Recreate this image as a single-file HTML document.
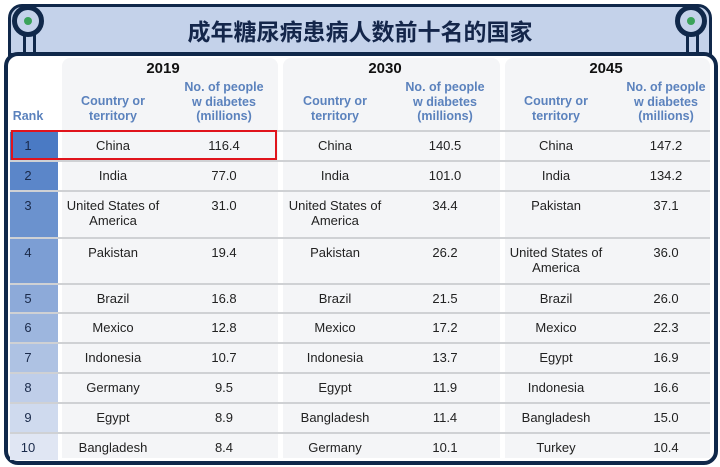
<!DOCTYPE html>
<html><head><meta charset="utf-8"><style>
body{margin:0;width:720px;height:467px;background:#fff;position:relative;overflow:hidden;font-family:"Liberation Sans",sans-serif}
.a{position:absolute}
.t{position:absolute;text-align:center;font-size:13px;color:#222;line-height:15px}
.h{position:absolute;text-align:center;font-size:12.5px;color:#5b82bd;font-weight:bold;line-height:14.5px}
.y{position:absolute;text-align:center;font-size:15px;font-weight:bold;color:#111}
</style></head><body>
<div class="a" style="left:8px;top:4px;width:698px;height:46px;background:#c4d2ea;border:3px solid #10284a;border-radius:14px 14px 0 0"></div>
<div class="a" style="left:0;top:13px;width:720px;text-align:center;font-size:23px;font-weight:bold;color:#14264a;font-family:'Liberation Sans','Noto Sans CJK SC',sans-serif">成年糖尿病患病人数前十名的国家</div>
<div class="a" style="left:23px;top:30px;width:7px;height:24px;background:#c4d2ea;border:0 solid #10284a;border-left-width:3px;border-right-width:3px"></div>
<div class="a" style="left:686px;top:30px;width:7px;height:24px;background:#c4d2ea;border:0 solid #10284a;border-left-width:3px;border-right-width:3px"></div>
<div class="a" style="left:12px;top:5px;width:22px;height:22px;border:5px solid #10284a;border-radius:50%;background:#c4d2ea"><div class="a" style="left:7px;top:7px;width:8px;height:8px;border-radius:50%;background:#3aa35a"></div></div>
<div class="a" style="left:675px;top:5px;width:22px;height:22px;border:5px solid #10284a;border-radius:50%;background:#c4d2ea"><div class="a" style="left:7px;top:7px;width:8px;height:8px;border-radius:50%;background:#3aa35a"></div></div>
<div class="a" style="left:4px;top:52px;width:706px;height:405px;background:#fff;border:4px solid #10284a;border-radius:14px"></div>
<div class="a" style="left:62px;top:58px;width:216px;height:400px;background:#f4f5f7;border-radius:8px 8px 0 0"></div>
<div class="a" style="left:283px;top:58px;width:217px;height:400px;background:#f4f5f7;border-radius:8px 8px 0 0"></div>
<div class="a" style="left:505px;top:58px;width:205px;height:400px;background:#f4f5f7;border-radius:8px 8px 0 0"></div>
<div id="tb"></div>
<script>
const years=["2019","2030","2045"];
const c2019=["China","India","United States of<br>America","Pakistan","Brazil","Mexico","Indonesia","Germany","Egypt","Bangladesh"];
const v2019=["116.4","77.0","31.0","19.4","16.8","12.8","10.7","9.5","8.9","8.4"];
const c2030=["China","India","United States of<br>America","Pakistan","Brazil","Mexico","Indonesia","Egypt","Bangladesh","Germany"];
const v2030=["140.5","101.0","34.4","26.2","21.5","17.2","13.7","11.9","11.4","10.1"];
const c2045=["China","India","Pakistan","United States of<br>America","Brazil","Mexico","Egypt","Indonesia","Bangladesh","Turkey"];
const v2045=["147.2","134.2","37.1","36.0","26.0","22.3","16.9","16.6","15.0","10.4"];
const tb=document.getElementById('tb');
const rowTop=[130,160,190,237,283,312,342,372,402,432,460];
const groups=[{c:c2019,v:v2019,cx:113,vx:224},{c:c2030,v:v2030,cx:335,vx:445},{c:c2045,v:v2045,cx:556,vx:666}];
let h='';
h+=`<div class="h" style="left:8px;top:109px;width:40px">Rank</div>`;
groups.forEach((g,i)=>{
 h+=`<div class="y" style="left:${g.cx-10}px;top:60px;width:120px">${years[i]}</div>`;
 h+=`<div class="h" style="left:${g.cx-60}px;top:94px;width:120px">Country or<br>territory</div>`;
 h+=`<div class="h" style="left:${g.vx-60}px;top:80px;width:120px">No. of people<br>w diabetes<br>(millions)</div>`;
});
for(let r=0;r<10;r++){
 const t=rowTop[r],b=rowTop[r+1];
 const k=r/9;
 const col=`rgb(${Math.round(74+k*150)},${Math.round(122+k*108)},${Math.round(196+k*47)})`;
 h+=`<div class="a" style="left:10px;top:${t}px;width:48px;height:${b-t}px;background:${col}"></div>`;
 h+=`<div class="t" style="left:8px;top:${t+8}px;width:40px;color:#1a2a4a">${r+1}</div>`;
 h+=`<div class="a" style="left:10px;top:${t}px;width:700px;height:2px;background:#cfd1d4"></div>`;
 groups.forEach(g=>{
  h+=`<div class="t" style="left:${g.cx-70}px;top:${t+8}px;width:140px">${g.c[r]}</div>`;
  h+=`<div class="t" style="left:${g.vx-50}px;top:${t+8}px;width:100px">${g.v[r]}</div>`;
 });
}
h+=`<div class="a" style="left:11px;top:130px;width:262px;height:26px;border:2.5px solid #e0141c"></div>`;
tb.innerHTML=h;
</script>
</body></html>
